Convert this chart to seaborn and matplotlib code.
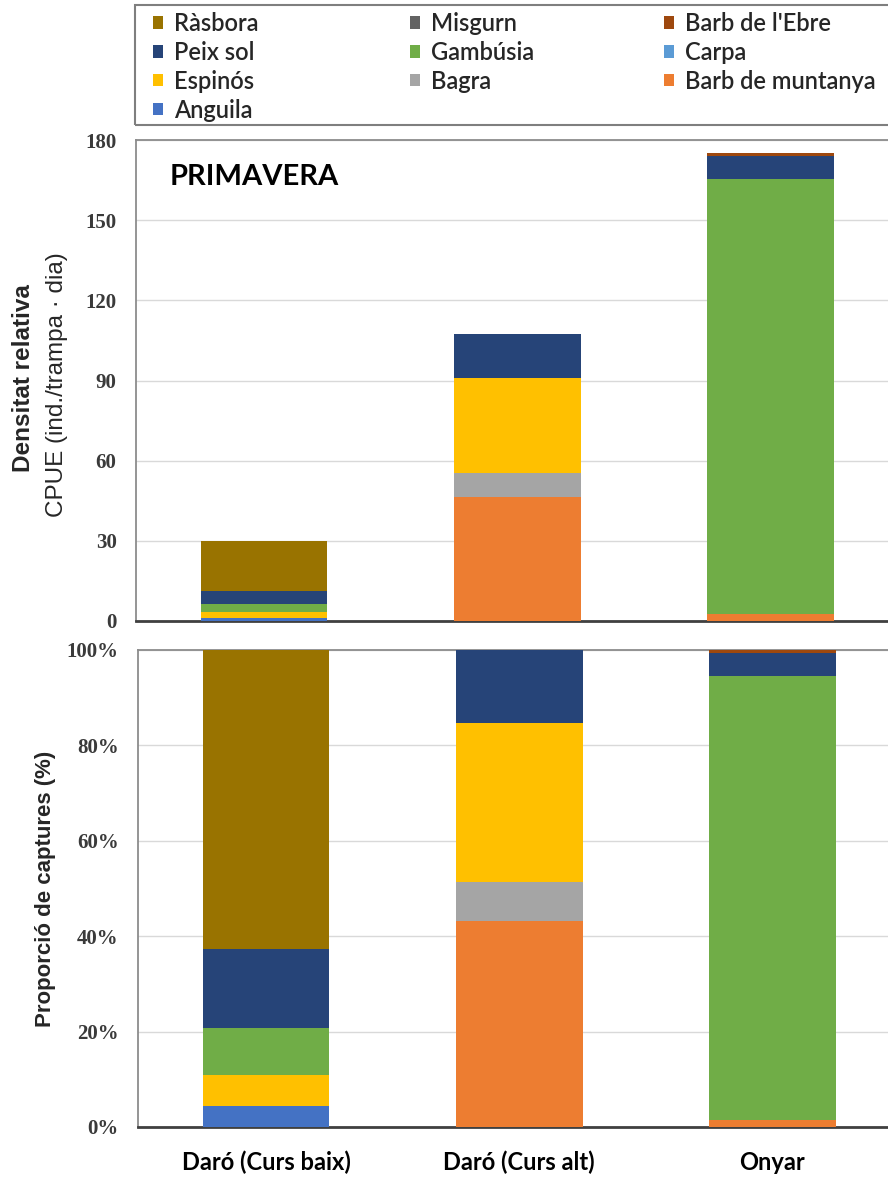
import matplotlib
matplotlib.use("Agg")
import matplotlib.pyplot as plt
from matplotlib.patches import Patch, Rectangle
from matplotlib.ticker import FuncFormatter
import numpy as np
import pandas as pd
import seaborn as sns

# Sampling sites
sites = ["Daró (Curs baix)", "Daró (Curs alt)", "Onyar"]

# Species in stacking order (bottom to top)
species = ["Anguila", "Barb de muntanya", "Bagra", "Espinós", "Carpa",
           "Gambúsia", "Peix sol", "Barb de l'Ebre", "Misgurn", "Ràsbora"]

# CPUE (ind./trampa · dia) per species and site, spring campaign
anguila = [1.3, 0.0, 0.0]
barb_muntanya = [0.0, 46.4, 2.5]
bagra = [0.0, 8.8, 0.0]
espinos = [2.0, 35.8, 0.0]
carpa = [0.0, 0.0, 0.0]
gambusia = [2.9, 0.0, 163.0]
peix_sol = [5.0, 16.4, 8.5]
barb_ebre = [0.0, 0.0, 1.0]
misgurn = [0.0, 0.0, 0.0]
rasbora = [18.8, 0.0, 0.0]

series = [anguila, barb_muntanya, bagra, espinos, carpa,
          gambusia, peix_sol, barb_ebre, misgurn, rasbora]

colors = {
    "Ràsbora": "#997300",
    "Misgurn": "#636363",
    "Barb de l'Ebre": "#9E480E",
    "Peix sol": "#264478",
    "Gambúsia": "#70AD47",
    "Carpa": "#5B9BD5",
    "Espinós": "#FFC000",
    "Bagra": "#A5A5A5",
    "Barb de muntanya": "#ED7D31",
    "Anguila": "#4472C4",
}

# Legend layout, column by column
legend_cols = [["Ràsbora", "Peix sol", "Espinós", "Anguila"],
               ["Misgurn", "Gambúsia", "Bagra"],
               ["Barb de l'Ebre", "Carpa", "Barb de muntanya"]]

# Axis ticks
cpue_ticks = [0, 30, 60, 90, 120, 150, 180]
pct_ticks = [0, 20, 40, 60, 80, 100]

df = pd.DataFrame(np.array(series).T, index=sites, columns=species)
cum = df.cumsum(axis=1)
pct = df.div(df.sum(axis=1), axis=0) * 100
cum_pct = pct.cumsum(axis=1)

sns.set_theme(style="white")
SANS = ["Lato", "DejaVu Sans"]
ARIAL = ["Liberation Sans", "DejaVu Sans"]
SERIF = ["Liberation Serif", "DejaVu Serif"]
plt.rcParams["font.family"] = SANS

W, H = 888, 1178
fig = plt.figure(figsize=(W / 100, H / 100), dpi=100)


def px_axes(left, top, right, bottom):
    return fig.add_axes([left / W, 1 - bottom / H, (right - left) / W, (bottom - top) / H])


ax1 = px_axes(136, 140, 897, 621)
ax2 = px_axes(138, 650, 899, 1127)


def stacked(ax, cumulative):
    # Draw cumulative totals from the top layer down so each lower layer overlays
    for sp in reversed(species):
        d = pd.DataFrame({"site": sites, "val": cumulative[sp].values})
        sns.barplot(data=d, x="site", y="val", order=sites, color=colors[sp],
                    width=0.5, linewidth=0, saturation=1, ax=ax, zorder=3)


stacked(ax1, cum)
stacked(ax2, cum_pct)

for ax, ticks in [(ax1, cpue_ticks), (ax2, pct_ticks)]:
    ax.set_xlim(-0.506, 2.5)
    ax.set_ylim(ticks[0], ticks[-1])
    ax.set_yticks(ticks)
    ax.set_xlabel("")
    ax.set_ylabel("")
    ax.yaxis.grid(True, color="#D9D9D9", linewidth=1, zorder=0)
    ax.set_axisbelow(True)
    ax.tick_params(axis="y", length=0, pad=14, labelsize=15, labelcolor="#3a3a3a")
    for side in ["left", "top", "right"]:
        ax.spines[side].set_color("#8c8c8c")
        ax.spines[side].set_linewidth(1.3)
    ax.spines["bottom"].set_color("#404040")
    ax.spines["bottom"].set_linewidth(2)

ax2.yaxis.set_major_formatter(FuncFormatter(lambda v, p: f"{int(v)}%"))
for ax in (ax1, ax2):
    for lab in ax.get_yticklabels():
        lab.set_family(SERIF)
        lab.set_fontweight("bold")

ax1.tick_params(axis="x", length=0, labelbottom=False)
ax2.tick_params(axis="x", length=0, pad=17, labelsize=17)
for lab in ax2.get_xticklabels():
    lab.set_fontweight("bold")
    lab.set_color("black")

# Season title
fig.text(170 / W, 1 - 177 / H, "PRIMAVERA", fontsize=21, fontweight="bold",
         ha="left", va="center", color="black")

# Axis titles
fig.text(24 / W, 1 - 378 / H, "Densitat relativa", rotation=90, fontsize=17.5,
         fontweight="bold", ha="center", va="center", family=ARIAL)
fig.text(57 / W, 1 - 385 / H, "CPUE (ind./trampa · dia)", rotation=90, fontsize=17.5,
         ha="center", va="center", family=ARIAL)
fig.text(46 / W, 1 - 889 / H, "Proporció de captures (%)", rotation=90, fontsize=16,
         fontweight="bold", ha="center", va="center", family=ARIAL)

# Legend frame and columns
fig.patches.append(Rectangle((135 / W, 1 - 125 / H), (900 - 135) / W, 120 / H,
                             transform=fig.transFigure, fill=False,
                             edgecolor="#7f7f7f", linewidth=1.5))
col_x = [153, 410, 664]
for x0, names in zip(col_x, legend_cols):
    handles = [Patch(facecolor=colors[n], edgecolor="none") for n in names]
    fig.legend(handles, names, loc="upper left",
               bbox_to_anchor=(x0 / W, 1 - 12 / H), frameon=False,
               prop={"size": 17, "weight": "semibold"},
               handlelength=0.42, handleheight=0.42,
               handletextpad=0.45, labelspacing=0.25, borderpad=0,
               borderaxespad=0)

fig.savefig("out.png", dpi=100)
